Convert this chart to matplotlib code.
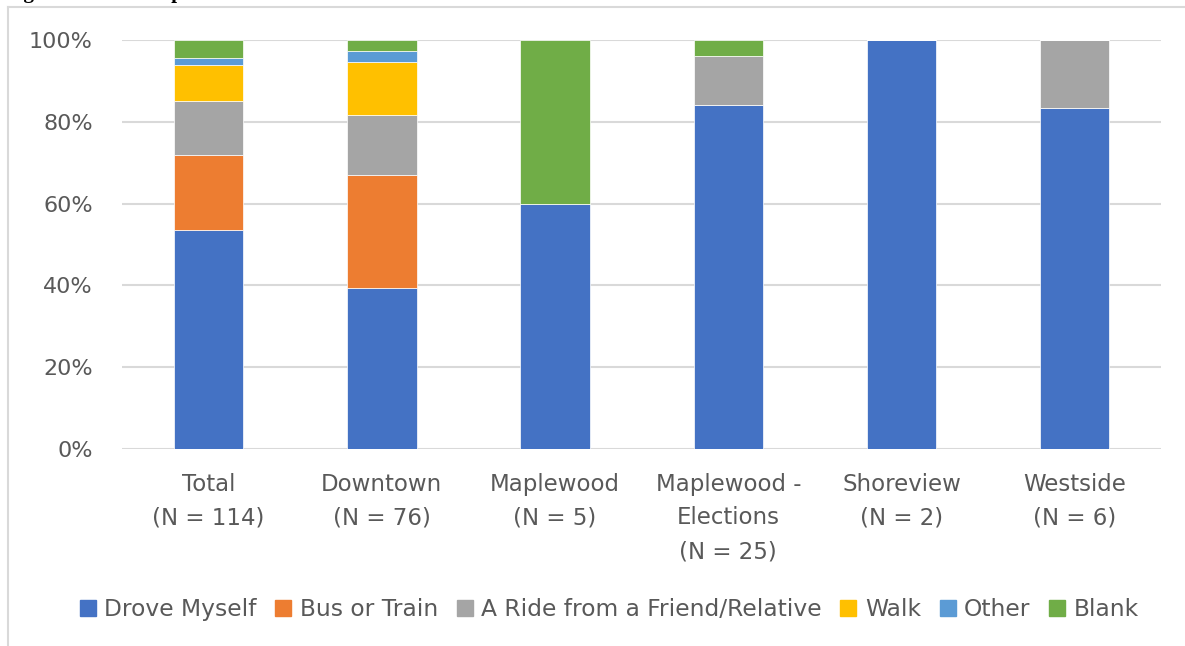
import numpy as np
import matplotlib.pyplot as plt
from matplotlib.lines import Line2D

# respondents per site, by how they got there
sites = ["Total", "Downtown", "Maplewood", "Maplewood -\nElections", "Shoreview", "Westside"]
n_total = [114, 76, 5, 25, 2, 6]

modes = ["Drove Myself", "Bus or Train", "A Ride from a Friend/Relative", "Walk", "Other", "Blank"]
drove = [61, 30, 3, 21, 2, 5]
bus = [21, 21, 0, 0, 0, 0]
ride = [15, 11, 0, 3, 0, 1]
walk = [10, 10, 0, 0, 0, 0]
other = [2, 2, 0, 0, 0, 0]
blank = [5, 2, 2, 1, 0, 0]

colors = ["#4472C4", "#ED7D31", "#A5A5A5", "#FFC000", "#5B9BD5", "#70AD47"]
txt = "#595959"

plt.rcParams['font.family'] = ['DejaVu Sans']

fig = plt.figure(figsize=(11.85, 6.46), dpi=100)
ax = fig.add_axes([0.103, 0.305, 0.877, 0.633])

x = np.arange(len(sites))
n = np.array(n_total, dtype=float)
bottom = np.zeros(len(sites))
for name, vals, c in zip(modes, [drove, bus, ride, walk, other, blank], colors):
    share = np.array(vals) / n
    ax.bar(x, share, 0.4, bottom=bottom, color=c, label=name,
           edgecolor="white", linewidth=0.5, zorder=3)
    bottom += share

ax.set_xlim(-0.5, 5.5)
ax.set_ylim(0, 1)
ax.set_yticks(np.arange(0, 1.01, 0.2))
ax.set_yticklabels([f"{int(round(v * 100))}%" for v in np.arange(0, 1.01, 0.2)])
ax.yaxis.grid(True, color="#d9d9d9", linewidth=1.5, zorder=0)
ax.set_xticks(x)
ax.set_xticklabels([f"{s}\n(N = {k})" for s, k in zip(sites, n_total)],
                   linespacing=1.6)
for s in ax.spines.values():
    s.set_visible(False)
ax.tick_params(axis="y", length=0, pad=21, labelsize=16, labelcolor=txt)
ax.tick_params(axis="x", length=0, pad=17, labelsize=16.5, labelcolor=txt)

# legend in one row under the chart
handles = [Line2D([], [], marker="s", linestyle="", markersize=11,
                  markerfacecolor=c, markeredgecolor=c) for c in colors]
fig.legend(handles, modes, loc="center", bbox_to_anchor=(0.513, 0.057), ncol=6,
           frameon=False, fontsize=16.8, labelcolor=txt, handletextpad=0.25,
           columnspacing=0.7, handlelength=0.9)

# chart border and the caption above it
fig.add_artist(Line2D([8 / 1185, 8 / 1185], [0, 1 - 7 / 646], color="#d9d9d9", linewidth=1.5))
fig.add_artist(Line2D([8 / 1185, 1], [1 - 7 / 646, 1 - 7 / 646], color="#d9d9d9", linewidth=1.5))
fig.text(0.004, 1 + 2 / 646, "Figure 6: How People Got to the Service Center",
         family="Liberation Serif", fontweight="bold", fontsize=15, va="baseline")

fig.savefig("out.png", dpi=100)
